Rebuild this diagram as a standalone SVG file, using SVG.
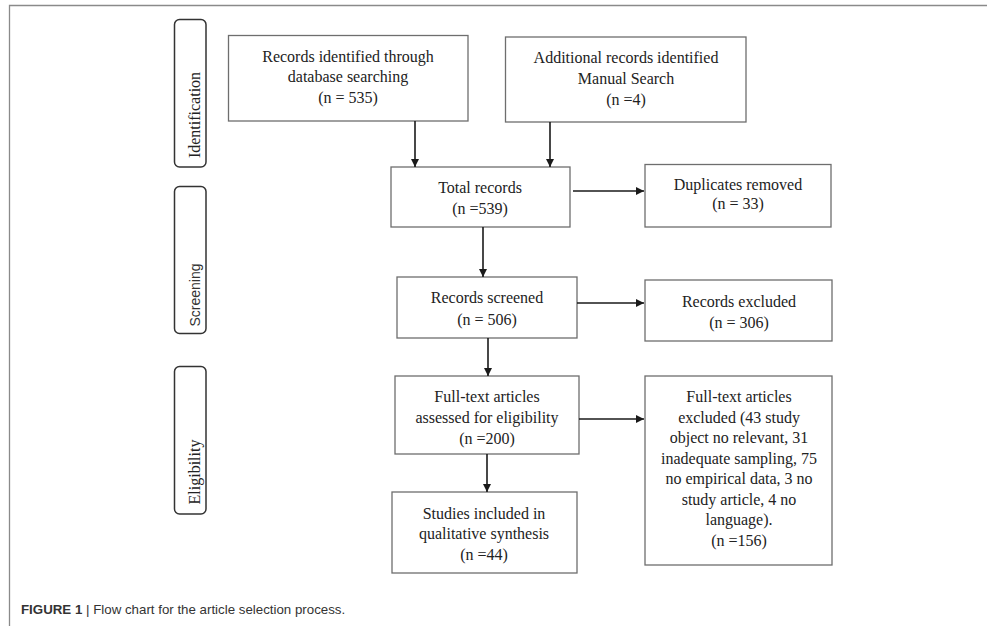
<svg xmlns="http://www.w3.org/2000/svg" width="987" height="626" viewBox="0 0 987 626">
<style>
.box{fill:#fff;stroke:#6e6e6e;stroke-width:1.3}
.phase{fill:#fff;stroke:#333;stroke-width:1.5}
.t{font-family:"Liberation Serif","Times New Roman",serif;font-size:16px;fill:#222;text-anchor:middle}
.ts{font-family:"Liberation Sans",Arial,sans-serif;font-size:14px;fill:#333;text-anchor:middle}
.cap{font-family:"Liberation Sans",Arial,sans-serif;font-size:13.3px;fill:#333}
.conn{stroke:#1a1a1a;stroke-width:1.6;fill:none;marker-end:url(#ah)}
</style>
<defs>
<marker id="ah" viewBox="0 0 10 10" refX="10" refY="5" markerWidth="8" markerHeight="8" markerUnits="userSpaceOnUse" orient="auto">
<path d="M0,0 L10,5 L0,10 z" fill="#1a1a1a"/>
</marker>
</defs>
<rect width="987" height="626" fill="#fff"/>
<g id="frame">
<path d="M9.5,626 V5.5 H987" fill="none" stroke="#8a8a8a" stroke-width="1.3"/>
</g>
<g id="phase-identification">
<rect class="phase" x="174.5" y="19.5" width="31.5" height="147.5" rx="5"/>
<text class="t" transform="translate(200,115) rotate(-90)">Identification</text>
</g>
<g id="phase-screening">
<rect class="phase" x="174.5" y="186.5" width="31.5" height="147" rx="5"/>
<text class="ts" transform="translate(200,295) rotate(-90)">Screening</text>
</g>
<g id="phase-eligibility">
<rect class="phase" x="174.5" y="366.5" width="31.5" height="147.5" rx="5"/>
<text class="t" transform="translate(200,472) rotate(-90)">Eligibility</text>
</g>
<g id="n-database">
<rect class="box" x="228.5" y="35.5" width="239.5" height="85.5"/>
<text class="t" x="348" y="62">Records identified through</text>
<text class="t" x="348" y="82">database searching</text>
<text class="t" x="348" y="103">(n = 535)</text>
</g>
<g id="n-manual">
<rect class="box" x="505.5" y="37" width="240.5" height="85"/>
<text class="t" x="626" y="63">Additional records identified</text>
<text class="t" x="626" y="84">Manual Search</text>
<text class="t" x="626" y="105">(n =4)</text>
</g>
<g id="n-total">
<rect class="box" x="391" y="167" width="179" height="60"/>
<text class="t" x="480" y="193">Total records</text>
<text class="t" x="480" y="214">(n =539)</text>
</g>
<g id="n-duplicates">
<rect class="box" x="645" y="164.5" width="186" height="62.5"/>
<text class="t" x="738" y="190">Duplicates removed</text>
<text class="t" x="738" y="209">(n = 33)</text>
</g>
<g id="n-screened">
<rect class="box" x="397" y="277" width="180" height="61"/>
<text class="t" x="487" y="303">Records screened</text>
<text class="t" x="487" y="325">(n = 506)</text>
</g>
<g id="n-excluded">
<rect class="box" x="645" y="280" width="187" height="61"/>
<text class="t" x="739" y="307">Records excluded</text>
<text class="t" x="739" y="328">(n = 306)</text>
</g>
<g id="n-assessed">
<rect class="box" x="395" y="376" width="184" height="78"/>
<text class="t" x="487" y="402">Full-text articles</text>
<text class="t" x="487" y="423">assessed for eligibility</text>
<text class="t" x="487" y="444">(n =200)</text>
</g>
<g id="n-ft-excluded">
<rect class="box" x="645" y="376" width="187" height="189"/>
<text class="t" x="739" y="402">Full-text articles</text>
<text class="t" x="739" y="423">excluded (43 study</text>
<text class="t" x="739" y="443">object no relevant, 31</text>
<text class="t" x="739" y="464">inadequate sampling, 75</text>
<text class="t" x="739" y="484">no empirical data, 3 no</text>
<text class="t" x="739" y="505">study article, 4 no</text>
<text class="t" x="739" y="525">language).</text>
<text class="t" x="739" y="546">(n =156)</text>
</g>
<g id="n-included">
<rect class="box" x="392" y="492" width="185" height="81"/>
<text class="t" x="484" y="519">Studies included in</text>
<text class="t" x="484" y="539">qualitative synthesis</text>
<text class="t" x="484" y="560">(n =44)</text>
</g>
<g id="connectors">
<line class="conn" x1="415" y1="121" x2="415" y2="167"/>
<line class="conn" x1="550" y1="122" x2="550" y2="167"/>
<line class="conn" x1="573" y1="191" x2="644" y2="191"/>
<line class="conn" x1="483" y1="227" x2="483" y2="277"/>
<line class="conn" x1="577" y1="303" x2="644" y2="303"/>
<line class="conn" x1="488" y1="338" x2="488" y2="376"/>
<line class="conn" x1="579" y1="419" x2="644" y2="419"/>
<line class="conn" x1="487" y1="454" x2="487" y2="492"/>
</g>
<g id="caption">
<text class="cap" x="21" y="614"><tspan font-weight="bold">FIGURE 1</tspan> | Flow chart for the article selection process.</text>
</g>
</svg>
